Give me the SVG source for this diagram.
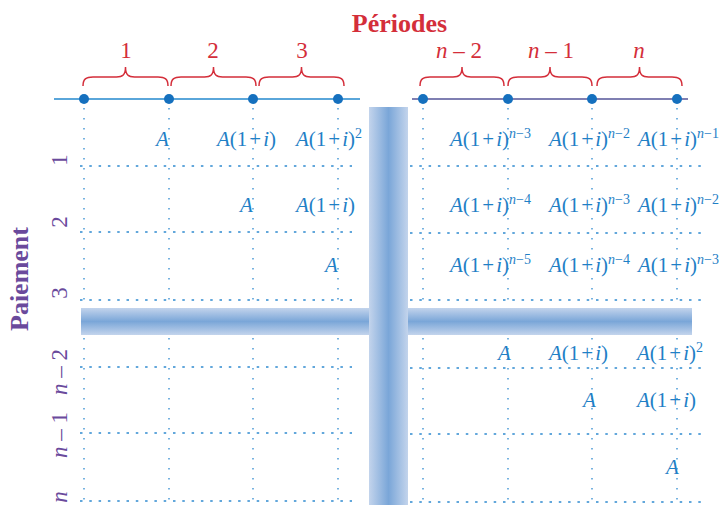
<svg xmlns="http://www.w3.org/2000/svg" width="719" height="505" viewBox="0 0 719 505">
<defs>
<linearGradient id="gh" x1="0" y1="0" x2="0" y2="1">
<stop offset="0" stop-color="#c3d4ec"/><stop offset="0.5" stop-color="#7aa6d8"/><stop offset="1" stop-color="#c3d4ec"/>
</linearGradient>
<linearGradient id="gv" x1="0" y1="0" x2="1" y2="0">
<stop offset="0" stop-color="#c3d4ec"/><stop offset="0.5" stop-color="#7aa6d8"/><stop offset="1" stop-color="#c3d4ec"/>
</linearGradient>
<style>
.brace{fill:none;stroke:#d42e3a;stroke-width:1.5}
.lab{font-family:"Liberation Serif",serif;font-size:23px;fill:#d42e3a;text-anchor:middle}
.title{font-family:"Liberation Serif",serif;font-size:26px;font-weight:bold}
.rl{font-family:"Liberation Serif",serif;font-size:23px;fill:#6a4a9c;text-anchor:middle}
.vd{stroke:#2f8ad0;stroke-width:1.3;stroke-dasharray:1.6 8.4;fill:none}
.hd{stroke:#2f8ad0;stroke-width:1.3;stroke-dasharray:2.5 6.8;fill:none}
.dot{fill:#1570be}
.f{font-family:"Liberation Serif",serif;font-size:21px;fill:#1f80c6}
.it{font-style:italic}
.sup{font-size:14px}
</style>
</defs>
<rect width="719" height="505" fill="#ffffff"/>

<g id="title">
<text class="title" x="399.5" y="32" text-anchor="middle" fill="#d42e3a">Périodes</text>
<text class="title" transform="translate(28,279) rotate(-90)" text-anchor="middle" fill="#6a4a9c">Paiement</text>
</g>

<g id="braces">
<path class="brace" d="M83 86 C83 79 86 77 93 77 L116.5 77 C122.5 77 125.5 75 125.5 67 C125.5 75 128.5 77 134.5 77 L158 77 C165 77 168 79 168 86"/>
<path class="brace" d="M171 86 C171 79 174 77 181 77 L204.5 77 C210.5 77 213.5 75 213.5 67 C213.5 75 216.5 77 222.5 77 L246 77 C253 77 256 79 256 86"/>
<path class="brace" d="M259 86 C259 79 262 77 269 77 L292.5 77 C298.5 77 301.5 75 301.5 67 C301.5 75 304.5 77 310.5 77 L334 77 C341 77 344 79 344 86"/>
<path class="brace" d="M420 86 C420 79 423 77 430 77 L453 77 C459 77 462 75 462 67 C462 75 465 77 471 77 L494 77 C501 77 504 79 504 86"/>
<path class="brace" d="M508 86 C508 79 511 77 518 77 L541 77 C547 77 550 75 550 67 C550 75 553 77 559 77 L582 77 C589 77 592 79 592 86"/>
<path class="brace" d="M597 86 C597 79 600 77 607 77 L630.5 77 C636.5 77 639.5 75 639.5 67 C639.5 75 642.5 77 648.5 77 L672 77 C679 77 682 79 682 86"/>
<text class="lab" x="126" y="58">1</text>
<text class="lab" x="213" y="58">2</text>
<text class="lab" x="302" y="58">3</text>
<text class="lab" x="459" y="58"><tspan class="it">n</tspan> – 2</text>
<text class="lab" x="551" y="58"><tspan class="it">n</tspan> – 1</text>
<text class="lab" x="639" y="58"><tspan class="it">n</tspan></text>
</g>

<g id="connectors">
<line x1="54" y1="99" x2="360" y2="99" stroke="#5aa6da" stroke-width="2"/>
<line x1="412" y1="99" x2="688" y2="99" stroke="#7f7fb2" stroke-width="2"/>
<path class="vd" d="M84 108 V505 M169 108 V505 M253 108 V505 M338 108 V505 M423 108 V505 M508 108 V505 M592 108 V505 M677 108 V505"/>
<path class="hd" d="M80 166 H352 M80 232 H352 M80 300 H352 M80 367 H352 M80 433 H352 M80 501 H352"/>
<path class="hd" d="M410 166 H702 M410 233 H702 M410 300 H702 M410 368 H702 M410 434 H702 M410 502 H702"/>
</g>

<g id="dots">
<circle class="dot" cx="84" cy="99" r="5"/>
<circle class="dot" cx="169" cy="99" r="5"/>
<circle class="dot" cx="253" cy="99" r="5"/>
<circle class="dot" cx="338" cy="99" r="5"/>
<circle class="dot" cx="423" cy="99" r="5"/>
<circle class="dot" cx="508" cy="99" r="5"/>
<circle class="dot" cx="592" cy="99" r="5"/>
<circle class="dot" cx="677" cy="99" r="5"/>
</g>

<g id="bars">
<rect x="81" y="308" width="288" height="27" fill="url(#gh)"/>
<rect x="408" y="308" width="284" height="27" fill="url(#gh)"/>
<rect x="369" y="107" width="39" height="398" fill="url(#gv)"/>
</g>

<g id="row-labels">
<text class="rl" transform="translate(67,160) rotate(-90)">1</text>
<text class="rl" transform="translate(67,222) rotate(-90)">2</text>
<text class="rl" transform="translate(67,293) rotate(-90)">3</text>
<text class="rl" transform="translate(67,372) rotate(-90)"><tspan class="it">n</tspan> – 2</text>
<text class="rl" transform="translate(67,435) rotate(-90)"><tspan class="it">n</tspan> – 1</text>
<text class="rl" transform="translate(67,497) rotate(-90)"><tspan class="it">n</tspan></text>
</g>

<g id="cells">
<text class="f it" x="156" y="146">A</text>
<text class="f" x="217" y="146"><tspan class="it">A</tspan>(1<tspan dx="2">+</tspan><tspan class="it" dx="2">i</tspan>)</text>
<text class="f" x="296" y="146"><tspan class="it">A</tspan>(1<tspan dx="2">+</tspan><tspan class="it" dx="2">i</tspan>)<tspan class="sup" dy="-8">2</tspan></text>
<text class="f" x="450" y="146"><tspan class="it">A</tspan>(1<tspan dx="2">+</tspan><tspan class="it" dx="2">i</tspan>)<tspan class="sup it" dy="-8">n</tspan><tspan class="sup">−3</tspan></text>
<text class="f" x="549" y="146"><tspan class="it">A</tspan>(1<tspan dx="2">+</tspan><tspan class="it" dx="2">i</tspan>)<tspan class="sup it" dy="-8">n</tspan><tspan class="sup">−2</tspan></text>
<text class="f" x="638" y="146"><tspan class="it">A</tspan>(1<tspan dx="2">+</tspan><tspan class="it" dx="2">i</tspan>)<tspan class="sup it" dy="-8">n</tspan><tspan class="sup">−1</tspan></text>

<text class="f it" x="240" y="212">A</text>
<text class="f" x="296" y="212"><tspan class="it">A</tspan>(1<tspan dx="2">+</tspan><tspan class="it" dx="2">i</tspan>)</text>
<text class="f" x="450" y="212"><tspan class="it">A</tspan>(1<tspan dx="2">+</tspan><tspan class="it" dx="2">i</tspan>)<tspan class="sup it" dy="-8">n</tspan><tspan class="sup">−4</tspan></text>
<text class="f" x="549" y="212"><tspan class="it">A</tspan>(1<tspan dx="2">+</tspan><tspan class="it" dx="2">i</tspan>)<tspan class="sup it" dy="-8">n</tspan><tspan class="sup">−3</tspan></text>
<text class="f" x="638" y="212"><tspan class="it">A</tspan>(1<tspan dx="2">+</tspan><tspan class="it" dx="2">i</tspan>)<tspan class="sup it" dy="-8">n</tspan><tspan class="sup">−2</tspan></text>

<text class="f it" x="325" y="272">A</text>
<text class="f" x="450" y="272"><tspan class="it">A</tspan>(1<tspan dx="2">+</tspan><tspan class="it" dx="2">i</tspan>)<tspan class="sup it" dy="-8">n</tspan><tspan class="sup">−5</tspan></text>
<text class="f" x="549" y="272"><tspan class="it">A</tspan>(1<tspan dx="2">+</tspan><tspan class="it" dx="2">i</tspan>)<tspan class="sup it" dy="-8">n</tspan><tspan class="sup">−4</tspan></text>
<text class="f" x="638" y="272"><tspan class="it">A</tspan>(1<tspan dx="2">+</tspan><tspan class="it" dx="2">i</tspan>)<tspan class="sup it" dy="-8">n</tspan><tspan class="sup">−3</tspan></text>

<text class="f it" x="498" y="360">A</text>
<text class="f" x="549" y="360"><tspan class="it">A</tspan>(1<tspan dx="2">+</tspan><tspan class="it" dx="2">i</tspan>)</text>
<text class="f" x="637" y="360"><tspan class="it">A</tspan>(1<tspan dx="2">+</tspan><tspan class="it" dx="2">i</tspan>)<tspan class="sup" dy="-8">2</tspan></text>

<text class="f it" x="583" y="407">A</text>
<text class="f" x="637" y="407"><tspan class="it">A</tspan>(1<tspan dx="2">+</tspan><tspan class="it" dx="2">i</tspan>)</text>

<text class="f it" x="666" y="474">A</text>
</g>
</svg>
